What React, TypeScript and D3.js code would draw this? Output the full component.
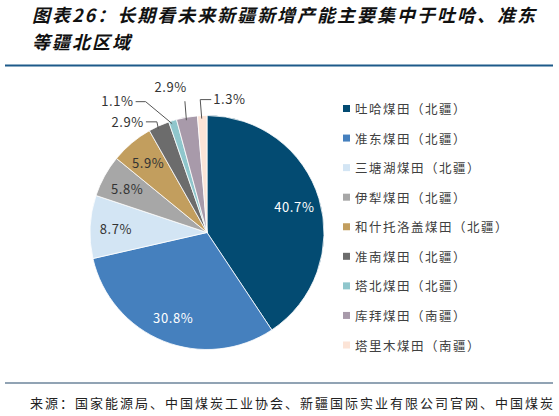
import React, { useEffect, useRef } from 'react'
import * as d3 from 'd3'

const fields = [
  '吐哈煤田（北疆）',
  '准东煤田（北疆）',
  '三塘湖煤田（北疆）',
  '伊犁煤田（北疆）',
  '和什托洛盖煤田（北疆）',
  '准南煤田（北疆）',
  '塔北煤田（北疆）',
  '库拜煤田（南疆）',
  '塔里木煤田（南疆）',
]
const shares = [40.7, 30.8, 8.7, 5.8, 5.9, 2.9, 1.1, 2.9, 1.3]
const colors = [
  '#034b72',
  '#4580be',
  '#d3e5f4',
  '#a7a7a7',
  '#c29e5e',
  '#6c6c6c',
  '#8fc6cc',
  '#a89aaa',
  '#fce4d7',
]

// leader line placement for the small slices (offsets from the slice edge)
const callouts: Record<number, { elbow: [number, number]; end: [number, number]; anchor: string; tx: number; ty: number }> = {
  5: { elbow: [-2, -4], end: [-13, -4], anchor: 'end', tx: -15, ty: -4 },
  6: { elbow: [-27, -19], end: [-37, -19], anchor: 'end', tx: -39, ty: -20 },
  7: { elbow: [-2, -16], end: [-2, -16], anchor: 'end', tx: 0, ty: -31 },
  8: { elbow: [-2, -16], end: [9, -16], anchor: 'start', tx: 11, ty: -17 },
}

const FONT = '"Noto Sans CJK SC", "Noto Sans", sans-serif'

export default function App() {
  const svgRef = useRef<SVGSVGElement>(null)

  useEffect(() => {
    if (!svgRef.current) return
    const svg = d3.select(svgRef.current)
    svg.selectAll('*').remove()

    // title
    const title = svg
      .append('g')
      .style('font-family', FONT)
      .style('font-weight', '700')
      .style('font-style', 'italic')
      .style('font-size', '18px')
      .attr('fill', '#111')
    title
      .append('text')
      .attr('x', 32)
      .attr('y', 22)
      .attr('textLength', 503)
      .attr('lengthAdjust', 'spacing')
      .text('图表26：长期看未来新疆新增产能主要集中于吐哈、准东')
    title
      .append('text')
      .attr('x', 32)
      .attr('y', 49)
      .attr('letter-spacing', 2)
      .text('等疆北区域')

    svg.append('line')
      .attr('x1', 5).attr('x2', 553)
      .attr('y1', 65.5).attr('y2', 65.5)
      .attr('stroke', '#1d5a8a')
      .attr('stroke-width', 2)

    svg.append('line')
      .attr('x1', 5).attr('x2', 553)
      .attr('y1', 383).attr('y2', 383)
      .attr('stroke', '#24486a')
      .attr('stroke-width', 1.2)

    svg.append('text')
      .attr('x', 30)
      .attr('y', 408)
      .attr('textLength', 523)
      .attr('lengthAdjust', 'spacing')
      .style('font-family', FONT)
      .style('font-size', '13px')
      .attr('fill', '#222')
      .text('来源：国家能源局、中国煤炭工业协会、新疆国际实业有限公司官网、中国煤炭')

    // pie
    const cx = 207
    const cy = 232.5
    const r = 117
    const data = shares.map((v, i) => ({ name: fields[i], value: v, i }))
    const pie = d3.pie<{ name: string; value: number; i: number }>().value((d) => d.value).sort(null)
    const arcs = pie(data)
    const arc = d3.arc<d3.PieArcDatum<{ name: string; value: number; i: number }>>().innerRadius(0).outerRadius(r)
    const labelArc = d3.arc<d3.PieArcDatum<{ name: string; value: number; i: number }>>().innerRadius(r * 0.78).outerRadius(r * 0.78)
    const edgeArc = d3.arc<d3.PieArcDatum<{ name: string; value: number; i: number }>>().innerRadius(r).outerRadius(r)

    const g = svg.append('g').attr('transform', `translate(${cx},${cy})`)
    g.selectAll('path')
      .data(arcs)
      .join('path')
      .attr('d', arc)
      .attr('fill', (d) => colors[d.data.i])
      .attr('stroke', '#fff')
      .attr('stroke-width', 0.8)

    const labels = g.append('g').style('font-family', FONT).style('font-size', '13px')
    arcs.forEach((d) => {
      const txt = `${d.data.value.toFixed(1)}%`
      const c = callouts[d.data.i]
      if (!c) {
        const [x, y] = labelArc.centroid(d)
        labels.append('text')
          .attr('x', x).attr('y', y)
          .attr('text-anchor', 'middle')
          .attr('dominant-baseline', 'central')
          .attr('letter-spacing', 0.6)
          .attr('fill', d.data.i < 2 ? '#fff' : '#333')
          .text(txt)
      } else {
        const [ex, ey] = edgeArc.centroid(d)
        const pts: [number, number][] = [
          [ex - 0.5, ey + 3],
          [ex + c.elbow[0], ey + c.elbow[1]],
          [ex + c.end[0], ey + c.end[1]],
        ]
        labels.append('path')
          .attr('d', d3.line()(pts))
          .attr('fill', 'none')
          .attr('stroke', '#555')
          .attr('stroke-width', 1)
        labels.append('text')
          .attr('x', ex + c.tx).attr('y', ey + c.ty)
          .attr('text-anchor', c.anchor)
          .attr('dominant-baseline', 'central')
          .attr('letter-spacing', 0.6)
          .attr('fill', '#333')
          .text(txt)
      }
    })

    // legend
    const y = d3.scalePoint<string>().domain(fields).range([108.5, 345])
    const legend = svg.append('g').style('font-family', FONT).style('font-size', '12.5px')
    fields.forEach((f, i) => {
      legend.append('rect')
        .attr('x', 343).attr('y', (y(f) as number) - 3.5)
        .attr('width', 7).attr('height', 7)
        .attr('fill', colors[i])
      legend.append('text')
        .attr('x', 355).attr('y', y(f) as number)
        .attr('dominant-baseline', 'central')
        .attr('letter-spacing', 1.5)
        .attr('fill', '#404040')
        .text(f)
    })
  }, [])

  return (
    <svg
      ref={svgRef}
      width={559}
      height={416}
      style={{ position: 'absolute', left: 0, top: 0, background: '#fff' }}
    />
  )
}
